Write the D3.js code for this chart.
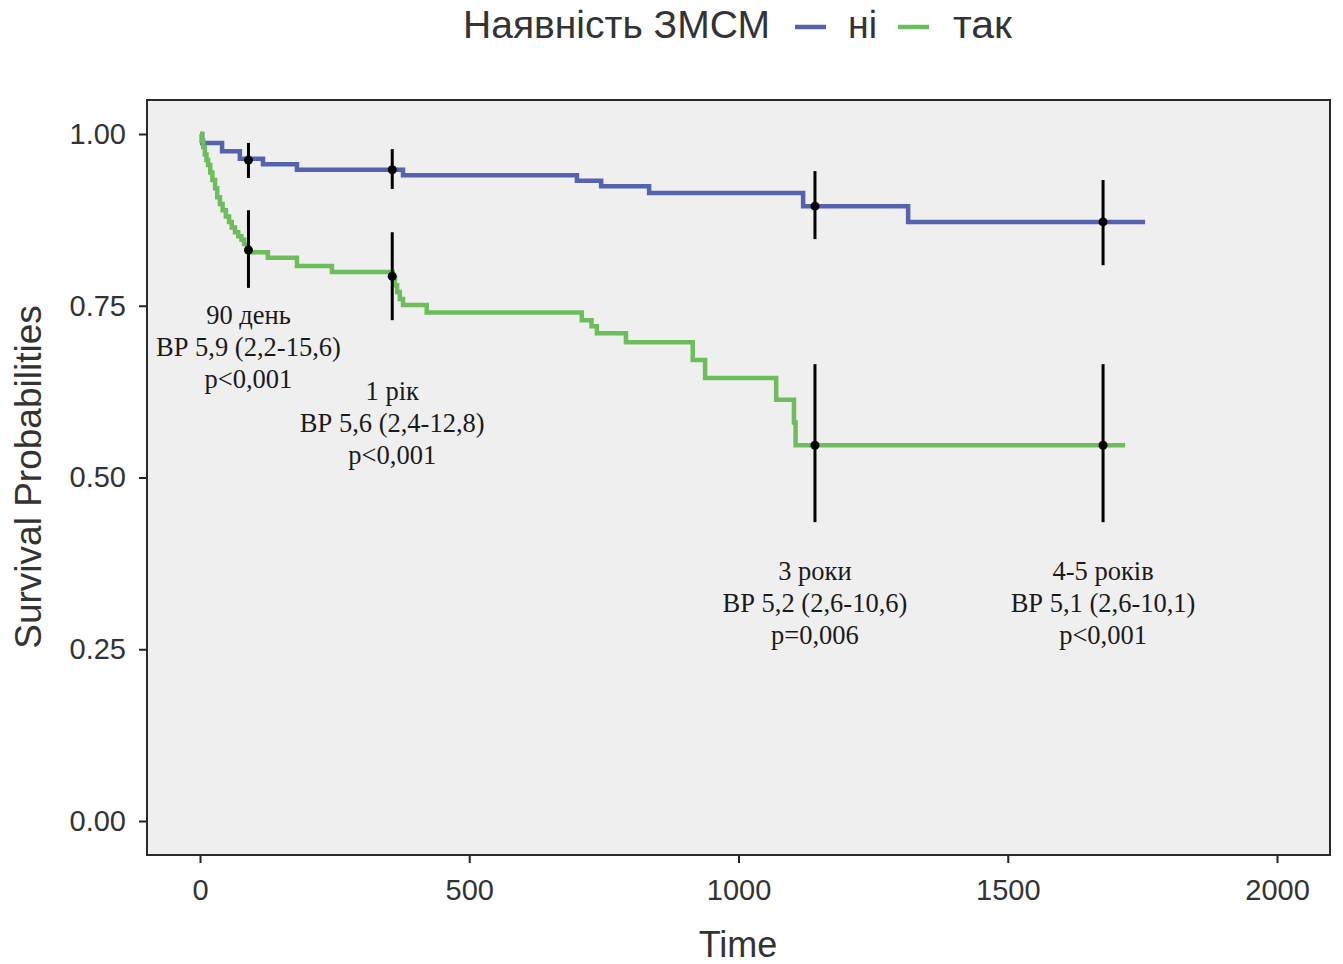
<!DOCTYPE html>
<html>
<head>
<meta charset="utf-8">
<script src="https://cdn.jsdelivr.net/npm/d3@7"></script>
<style>
  html, body { margin: 0; padding: 0; background: #ffffff; }
  svg { display: block; }
</style>
</head>
<body>
<div id="chart"></div>
<script>
// ---------------- data ----------------
const legendTitle = "Наявність ЗМСМ";
const groupNames = ["ні", "так"];
const groupColors = ["#5562B0", "#6CBE5A"];

const blueTime = [0, 4, 41, 74, 117, 180, 377, 700, 745, 834, 1120, 1315, 1755];
const blueSurv = [1, 0.987, 0.975, 0.964, 0.956, 0.948, 0.940, 0.932, 0.924, 0.914, 0.895, 0.872, 0.872];

const greenTime = [0, 3, 6, 9, 12, 15, 19, 23, 28, 32, 37, 42, 48, 54, 59, 65, 71, 77, 82, 87, 91,
  126, 180, 245, 358, 362, 366, 371, 377, 421, 709, 727, 737, 791, 915, 938, 1070, 1103, 1106, 1718];
const greenSurv = [1, 0.99, 0.981, 0.97, 0.962, 0.955, 0.944, 0.933, 0.921, 0.908, 0.898, 0.889, 0.880,
  0.872, 0.864, 0.857, 0.851, 0.846, 0.840, 0.834, 0.828, 0.820, 0.808, 0.799, 0.790, 0.780, 0.770,
  0.760, 0.751, 0.740, 0.729, 0.720, 0.710, 0.697, 0.671, 0.645, 0.613, 0.580, 0.547, 0.547];

const ciTime = [90, 357, 1142, 1677];
const blueEst = [0.962, 0.948, 0.895, 0.872];
const blueLow = [0.936, 0.920, 0.847, 0.809];
const blueHigh = [0.987, 0.978, 0.946, 0.933];
const greenEst = [0.831, 0.793, 0.547, 0.547];
const greenLow = [0.776, 0.729, 0.435, 0.435];
const greenHigh = [0.889, 0.857, 0.665, 0.665];

const annTime = [90, 357, 1142, 1677];
const annY = [0.7365, 0.627, 0.365, 0.365];
const annLine1 = ["90 день", "1 рік", "3 роки", "4-5 років"];
const annLine2 = ["ВР 5,9 (2,2-15,6)", "ВР 5,6 (2,4-12,8)", "ВР 5,2 (2,6-10,6)", "ВР 5,1 (2,6-10,1)"];
const annLine3 = ["p<0,001", "p<0,001", "p=0,006", "p<0,001"];

const xTicks = [0, 500, 1000, 1500, 2000];
const yTicks = [0, 0.25, 0.5, 0.75, 1.0];
const xTitle = "Time";
const yTitle = "Survival Probabilities";

// ---------------- layout ----------------
const W = 1343, H = 964;
const panel = { left: 147, right: 1330, top: 100, bottom: 855 };

const svg = d3.select("#chart").append("svg")
  .attr("width", W).attr("height", H)
  .style("font-family", "'Liberation Sans', Arial, sans-serif");

const x = d3.scaleLinear().domain([0, 2000]).range([200, 1277]);
const y = d3.scaleLinear().domain([0, 1]).range([821, 134]);

// panel background
svg.append("rect")
  .attr("x", panel.left).attr("y", panel.top)
  .attr("width", panel.right - panel.left).attr("height", panel.bottom - panel.top)
  .attr("fill", "#EFEFEF");

// axes
const xAxis = d3.axisBottom(x).tickValues(xTicks).tickFormat(d3.format("d")).tickSize(8).tickPadding(16);
const yAxis = d3.axisLeft(y).tickValues(yTicks).tickFormat(d3.format(".2f")).tickSize(8).tickPadding(13);

const gx = svg.append("g").attr("transform", `translate(0,${panel.bottom})`).call(xAxis);
gx.select(".domain").remove();
gx.selectAll(".tick line").attr("stroke", "#222").attr("stroke-width", 2);
gx.selectAll(".tick text").attr("fill", "#333").style("font-size", "29px");

const gy = svg.append("g").attr("transform", `translate(${panel.left},0)`).call(yAxis);
gy.select(".domain").remove();
gy.selectAll(".tick line").attr("stroke", "#222").attr("stroke-width", 2);
gy.selectAll(".tick text").attr("fill", "#333").style("font-size", "29px");

// axis titles
svg.append("text").attr("x", 738).attr("y", 957).attr("text-anchor", "middle")
  .attr("fill", "#333").style("font-size", "36px").text(xTitle);
svg.append("text").attr("transform", `translate(41,477) rotate(-90)`).attr("text-anchor", "middle")
  .attr("fill", "#333").style("font-size", "37px").text(yTitle);

// curves
svg.append("clipPath").attr("id", "clipP").append("rect")
  .attr("x", panel.left).attr("y", panel.top)
  .attr("width", panel.right - panel.left).attr("height", panel.bottom - panel.top);

const line = d3.line().x(d => x(d[0])).y(d => y(d[1])).curve(d3.curveStepAfter);
const series = [
  { pts: d3.zip(blueTime, blueSurv), color: groupColors[0] },
  { pts: d3.zip(greenTime, greenSurv), color: groupColors[1] }
];
const gc = svg.append("g").attr("clip-path", "url(#clipP)");
series.forEach(s => {
  gc.append("path").datum(s.pts).attr("d", line)
    .attr("fill", "none").attr("stroke", s.color).attr("stroke-width", 4.5);
});

// CI bars and points
const ciSets = [
  { est: blueEst, low: blueLow, high: blueHigh },
  { est: greenEst, low: greenLow, high: greenHigh }
];
ciSets.forEach(c => {
  ciTime.forEach((t, i) => {
    gc.append("line").attr("x1", x(t)).attr("x2", x(t))
      .attr("y1", y(c.low[i])).attr("y2", y(c.high[i]))
      .attr("stroke", "#000").attr("stroke-width", 3);
    gc.append("circle").attr("cx", x(t)).attr("cy", y(c.est[i])).attr("r", 4.5).attr("fill", "#000");
  });
});

// annotations
annTime.forEach((t, i) => {
  const g = svg.append("g").attr("text-anchor", "middle")
    .style("font-family", "'Liberation Serif', 'Times New Roman', serif")
    .style("font-size", "26.5px").attr("fill", "#1a1a1a");
  [annLine1[i], annLine2[i], annLine3[i]].forEach((txt, k) => {
    g.append("text").attr("x", x(t)).attr("y", y(annY[i]) + k * 32)
      .attr("dy", "0.35em").text(txt);
  });
});

// panel border
svg.append("rect")
  .attr("x", panel.left).attr("y", panel.top)
  .attr("width", panel.right - panel.left).attr("height", panel.bottom - panel.top)
  .attr("fill", "none").attr("stroke", "#2a2a2a").attr("stroke-width", 2);

// legend
const lg = svg.append("g").style("font-size", "38px").attr("fill", "#333");
lg.append("text").attr("x", 463).attr("y", 25).attr("dy", "0.35em")
  .attr("textLength", 307).attr("lengthAdjust", "spacingAndGlyphs").text(legendTitle);
const keyX = [795, 898];
const labX = [848, 953];
const labLen = [29, 59];
groupNames.forEach((n, i) => {
  lg.append("line").attr("x1", keyX[i]).attr("x2", keyX[i] + 31).attr("y1", 27).attr("y2", 27)
    .attr("stroke", groupColors[i]).attr("stroke-width", 4.5);
  lg.append("text").attr("x", labX[i]).attr("y", 25).attr("dy", "0.35em")
    .attr("textLength", labLen[i]).attr("lengthAdjust", "spacingAndGlyphs").text(n);
});
</script>
</body>
</html>
